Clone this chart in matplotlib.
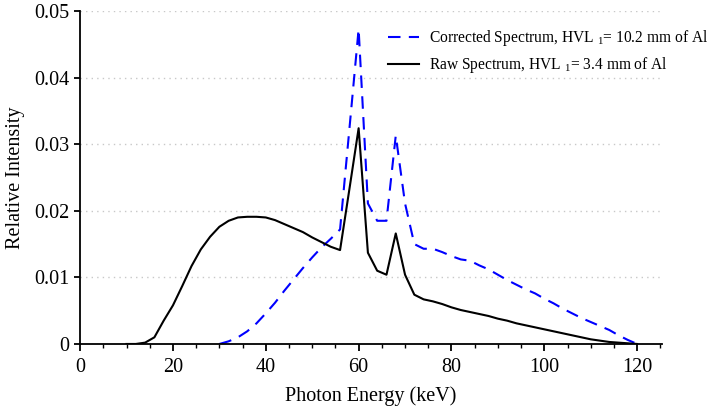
import matplotlib
matplotlib.use("Agg")
import matplotlib.pyplot as plt
from matplotlib.ticker import MultipleLocator, FixedLocator

energy_raw = [10, 12, 14, 16, 18, 20, 22, 24, 26, 28, 30, 32, 34, 36, 38, 40, 42, 44, 46, 48,
              50, 52, 54, 56, 58, 60, 62, 64, 66, 68, 70, 72, 74, 76, 78, 80, 82, 84, 86, 88,
              90, 92, 94, 96, 98, 100, 102, 104, 106, 108, 110, 112, 114, 116, 118, 120]
raw_intensity = [0, 0, 0.0002, 0.0010, 0.0035, 0.0058, 0.0087, 0.0117, 0.0142, 0.0161, 0.0176,
                 0.0185, 0.0190, 0.0191, 0.0191, 0.0190, 0.0186, 0.0180, 0.0174, 0.0168,
                 0.0160, 0.0153, 0.0146, 0.0141, 0.0232, 0.0324, 0.0137, 0.0110, 0.0104, 0.0166,
                 0.0104, 0.0074, 0.0067, 0.0064, 0.0060, 0.0055, 0.0051, 0.0048, 0.0045, 0.0042,
                 0.0038, 0.0035, 0.0031, 0.0028, 0.0025, 0.0022, 0.0019, 0.0016, 0.0013, 0.0010,
                 0.0007, 0.0005, 0.0003, 0.0002, 0.0001, 0.0]

energy_corr = [30, 32, 34, 36, 38, 40, 42, 44, 46, 48, 50, 52, 54, 56, 58, 60, 62, 64, 66, 68,
               70, 72, 74, 76, 78, 80, 82, 84, 86, 88, 90, 92, 94, 96, 98, 100, 102, 104, 106,
               108, 110, 112, 114, 116, 118, 120]
corr_intensity = [0, 0.0004, 0.0010, 0.0019, 0.0031, 0.0046, 0.0062, 0.0080, 0.0097, 0.0114,
                  0.0130, 0.0145, 0.0158, 0.0172, 0.0322, 0.0473, 0.0211, 0.0185, 0.0185, 0.0313,
                  0.0211, 0.0150, 0.0143, 0.0143, 0.0138, 0.0132, 0.0127, 0.0125, 0.0118, 0.0112,
                  0.0104, 0.0096, 0.0089, 0.0082, 0.0076, 0.0068, 0.0061, 0.0053, 0.0046, 0.0039,
                  0.0033, 0.0027, 0.0021, 0.0013, 0.0006, 0.0]

y_ticks = [0, 0.01, 0.02, 0.03, 0.04, 0.05]
y_tick_labels = ["0", "0.01", "0.02", "0.03", "0.04", "0.05"]
x_ticks = [0, 20, 40, 60, 80, 100, 120]

plt.rcParams['font.family'] = ['Liberation Serif', 'DejaVu Serif']
plt.rcParams['mathtext.fontset'] = 'custom'
plt.rcParams['mathtext.rm'] = 'Liberation Serif'
plt.rcParams['mathtext.it'] = 'Liberation Serif:italic'

fig = plt.figure(figsize=(7.09, 4.09), dpi=100)
ax = fig.add_axes([0.113, 0.159, 0.821, 0.814])

ax.plot(energy_corr, corr_intensity, color='#0000ff', lw=1.5, dashes=(6, 4),
        label=r'Corrected Spectrum, HVL $_{1}$= 10.2 mm of Al')
ax.plot(energy_raw, raw_intensity, color='black', lw=1.5,
        label=r'Raw Spectrum, HVL $_{1}$= 3.4 mm of Al')

ax.set_xlim(0, 125.4)
ax.set_ylim(0, 0.05)
ax.set_yticks(y_ticks)
ax.set_yticklabels(y_tick_labels)
ax.xaxis.set_major_locator(FixedLocator(x_ticks))
ax.xaxis.set_minor_locator(MultipleLocator(5))
ax.tick_params(axis='x', which='major', direction='out', length=5, width=1.3, labelsize=14.5, pad=5)
ax.tick_params(axis='x', which='minor', direction='out', length=3, width=1.0)
ax.tick_params(axis='y', which='major', direction='out', length=4, width=1.3, labelsize=14.5, pad=4)

for s in ['top', 'right']:
    ax.spines[s].set_visible(False)
for s in ['left', 'bottom']:
    ax.spines[s].set_linewidth(1.3)

ax.grid(axis='y', linestyle=(0, (1, 3)), color='#c8c8c8', lw=1.0)
ax.set_axisbelow(True)

ax.set_xlabel('Photon Energy (keV)', fontsize=14.5, labelpad=7)
ax.set_ylabel('Relative Intensity', fontsize=14.5, labelpad=6)

leg = fig.legend(loc='upper left', bbox_to_anchor=(388 / 709, 1 - 28 / 409), frameon=False,
                 fontsize=11.2, handlelength=2.0, labelspacing=0.45, handletextpad=0.65,
                 borderpad=0, borderaxespad=0)

fig.savefig('out.png', dpi=100)
